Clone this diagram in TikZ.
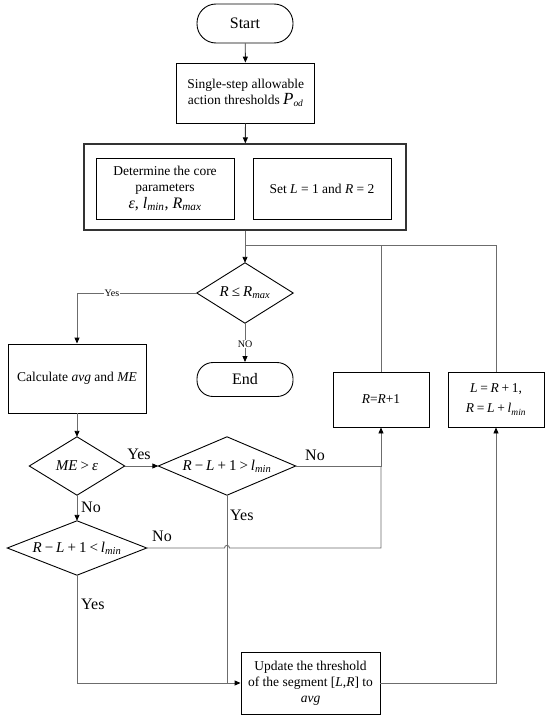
\documentclass[tikz,border=0pt]{standalone}
\usepackage{fontspec}
\setmainfont{Liberation Serif}
\usetikzlibrary{arrows.meta,shapes.misc}
\newcommand{\mi}[1]{\textit{#1}}
\newcommand{\subi}[1]{\textsubscript{\textit{#1}}}
\newcommand{\mygap}{\hspace{0.2em}}
\newcommand{\fs}[1]{\fontsize{#1}{#1}\selectfont}
\begin{document}
\begin{tikzpicture}[x=1pt,y=-1pt,
  box/.style={draw=black,line width=0.9pt,rectangle,inner sep=2pt,align=center,
    font=\fontsize{13.5}{16}\selectfont},
  term/.style={draw=black,line width=0.9pt,rectangle,rounded corners=16pt,
    minimum width=96pt,minimum height=34pt,font=\fontsize{16}{18}\selectfont},
  dia/.style={rectangle,draw=none,inner sep=0pt,font=\fontsize{15}{17}\selectfont},
  conn/.style={draw=gray!85!black,line width=0.9pt},
  arr/.style={conn,-{Triangle[color=black,length=6pt,width=5pt]}},
  darr/.style={draw=black!80,line width=0.9pt,-{Triangle[color=black,length=6pt,width=5pt]}},
  small/.style={font=\fontsize{10}{11}\selectfont,inner sep=0.5pt,fill=white},
  lab/.style={font=\fontsize{16}{18}\selectfont,inner sep=0pt}
]
\useasboundingbox (0,0) rectangle (550,720);

% nodes
\node[term,minimum height=39pt,rounded corners=19pt] (start) at (245,23.5) {Start};
\node[box,minimum width=138pt,minimum height=60pt] (pod) at (245.7,93)
  {Single-step allowable\\ action thresholds \mi{\fs{17}P}\subi{od}};
\node[box,draw=black!80,line width=1.2pt,minimum width=322pt,minimum height=86pt] (outer) at (245,187) {};
\node[box,minimum width=138pt,minimum height=61pt] (core) at (165,188.5)
  {Determine the core\\ parameters\\[1pt] {\fs{16}\mi{ε}, \mi{l}\subi{min}, \mi{R}\subi{max}}};
\node[box,minimum width=138pt,minimum height=61pt] (setlr) at (322,188.5)
  {Set \mi{L} = 1 and \mi{R} = 2};
\coordinate (j) at (245,245);

\node[dia,minimum width=96pt,minimum height=60pt] (c1) at (245,293)
  {\mi{R}\mygap≤\mygap\mi{R}\subi{max}};
\node[box,minimum width=138pt,minimum height=69pt] (calc) at (77,378.5)
  {Calculate \mi{avg} and \mi{ME}};
\node[term] (end) at (245,379.5) {End};
\node[box,minimum width=96pt,minimum height=55pt] (rbox) at (381,399.5)
  {\mi{R}=\mi{R}+1};
\node[box,minimum width=96pt,minimum height=55pt] (lbox) at (496,399.5)
  {\mi{L}\mygap=\mygap\mi{R}\mygap+\mygap1,\\[4pt] \mi{R}\mygap=\mygap\mi{L}\mygap+\mygap\mi{l}\subi{min}};

\node[dia,minimum width=95pt,minimum height=58pt] (c2) at (77,466)
  {\mi{ME}\mygap>\mygap\mi{ε}};
\node[dia,minimum width=137pt,minimum height=58pt] (c3) at (227,466)
  {\mi{R}\mygap−\mygap\mi{L}\mygap+\mygap1\mygap>\mygap\mi{l}\subi{min}};
\node[dia,minimum width=139pt,minimum height=54pt] (c4) at (77,548)
  {\mi{R}\mygap−\mygap\mi{L}\mygap+\mygap1\mygap<\mygap\mi{l}\subi{min}};
\node[box,minimum width=139pt,minimum height=62pt] (upd) at (310.5,683)
  {Update the threshold\\ of the segment [\mi{L},\mi{R}] to\\ \mi{avg}};

% diamond outlines
\foreach \d in {c1,c2,c3,c4}
  \draw[line width=0.9pt] (\d.north) -- (\d.east) -- (\d.south) -- (\d.west) -- cycle;

% connectors
\draw[darr] (start) -- (pod);
\draw[darr] (pod) -- (outer);
\draw[arr] (outer.south) -- (c1.north);
\draw[conn] (rbox.north) -- (rbox.north |- j);
\draw[conn] (lbox.north) |- (j);

\draw[arr] (c1.west) -| (calc.north);
\node[small] (yes1) at (112,293) {Yes};
\draw[arr] (c1.south) -- (end.north);
\node[small] (no1) at (245,344) {NO};

\draw[arr] (calc.south) -- (c2.north);
\draw[arr] (c2.east) -- (c3.west);
\node[lab] (yes2) at (139,454) {Yes};
\draw[arr] (c3.east) -| (rbox.south);
\node[lab] (no2) at (315,455) {No};
\draw[arr] (c2.south) -- (c4.north);
\node[lab,anchor=west] (no3) at (81,507) {No};
\draw[conn] (c4.east) -- (224.5,548) .. controls (224.5,544.5) and (229.5,544.5) .. (229.5,548)
  -- (c4.east -| rbox.south) -- (c3.east -| rbox.south);
\node[lab] (no4) at (162,536) {No};

\coordinate (m) at (c3.south |- upd.west);
\draw[arr] (c3.south) -- (m) -- (upd.west);
\node[lab,anchor=west] (yes3) at (230,515) {Yes};
\draw[conn] (c4.south) |- (m);
\node[lab,anchor=west] (yes4) at (81,604) {Yes};
\draw[arr] (upd.east) -| (lbox.south);
\end{tikzpicture}
\end{document}
